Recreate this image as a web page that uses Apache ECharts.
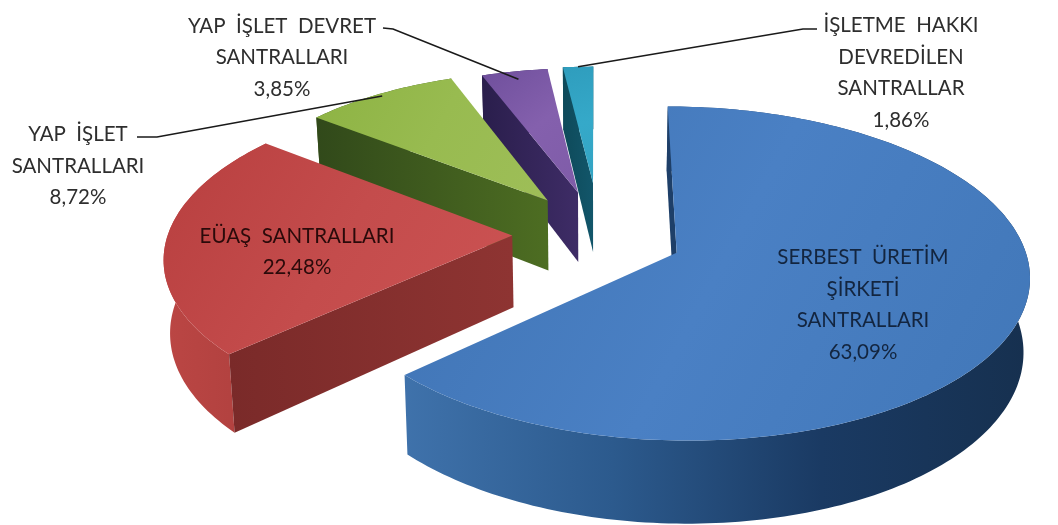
<!DOCTYPE html>
<html><head><meta charset="utf-8">
<style>html,body{margin:0;padding:0;background:#fff}#c{width:1058px;height:525px}</style>
<script src="https://cdn.jsdelivr.net/npm/echarts@6/dist/echarts.min.js"></script>
</head><body><div id="c"></div>
<script>
// ---- data
const categories = ["SERBEST  ÜRETİM\nŞİRKETİ\nSANTRALLARI","EÜAŞ  SANTRALLARI","YAP  İŞLET\nSANTRALLARI","YAP  İŞLET  DEVRET\nSANTRALLARI","İŞLETME  HAKKI\nDEVREDİLEN\nSANTRALLAR"];
const values = [63.09,22.48,8.72,3.85,1.86];

// ---- layout of the exploded perspective pie (disc units, radius 1)
const explodeU = [0.231,-0.243,-0.144,-0.054,-0.009];
const explodeV = [0.117,0.010,-0.213,-0.266,-0.330];
const radius   = [1,1,0.95,0.92,0.87];
const OX=596, VANISH_Y=-1070, INV_C=0.000767, Q=0.000094, XS=0.264, DEPTH=0.055, BOTTOM_X=0.985;
const labelPos = [[863,305],[297,252],[78,166],[282,57.5],[901,73]];
const leaderFrom = [null,null,[[137,137],[157,137]],[[383,28],[393,29]],[[817,29],[803,29]]];
const leaderAt = [0,0,0.98,0.93,1];
const LINE_H=31.5;

const topFill = [
 ['#3f73b3','#4a80c4','#4177b8'],['#b83f3f','#c44c4c','#cc5353'],['#8db343','#98bb50','#9ebe58'],['#6f4f9c','#8460ad','#7f5ca8'],['#2f9dbd','#35a9c9','#33a3c2']];
const wallFill = [
 ['#3f72ab','#2c5a8d','#1a3a63','#16304f'],['#bb4644','#ad3f3d','#9c3836','#8a3230'],['#3d5a1c','#3d5a1c','#46661f','#4c6c24'],['#2b1f4d','#33265a','#3c2b63','#33265a'],['#0f4f60','#125567','#145a6d','#145a6d']];
const sideFill = [['#1e3f68','#1e3f68'],['#7a2a29','#8e3432'],['#31491a','#4d6d22'],['#2a1e4c','#3e2c66'],['#0e4a5a','#12566a']];
const textFill = ['#13253f','#2a0a0a','#2e2e2e','#2e2e2e','#2e2e2e'];

const total = values.reduce((a,b)=>a+b,0);
const starts=[]; let acc=0; values.forEach(v=>{starts.push(acc);acc+=v/total*Math.PI*2;});

function proj(U,V,bottom){
  const D=1/(INV_C-Q*V);
  let x=OX+XS*D*U, y=VANISH_Y+D;
  if(bottom){x=OX+(x-OX)*BOTTOM_X; y+=DEPTH*D;}
  return [x,y];
}
function pt(i,th,rr,bottom){
  return proj(explodeU[i]+rr*radius[i]*Math.sin(th),explodeV[i]-rr*radius[i]*Math.cos(th),bottom);
}
function arc(i,a,b,bottom){const n=Math.max(4,Math.ceil((b-a)/0.02)),o=[];for(let k=0;k<=n;k++)o.push(pt(i,a+(b-a)*k/n,1,bottom));return o;}
function lin(x,y,x2,y2,cols){return {type:'linear',x:x,y:y,x2:x2,y2:y2,global:true,colorStops:cols.map((c,k)=>({offset:k/(cols.length-1),color:c}))};}
function poly(points,fill,z){return {type:'polygon',silent:true,z2:z,shape:{points:points},style:{fill:fill,stroke:null}};}

function renderItem(params,api){
  const i=api.value(0), a=starts[i], b=a+api.value(1)/total*Math.PI*2;
  const apexT=pt(i,0,0,false), apexB=pt(i,0,0,true);
  const topArc=arc(i,a,b,false), botArc=arc(i,a,b,true);
  const xs=topArc.map(p=>p[0]).concat(apexT[0]), ys=topArc.map(p=>p[1]).concat(apexT[1]);
  const x0=Math.min(...xs),x1=Math.max(...xs),y0=Math.min(...ys),y1=Math.max(...ys);
  const base=(10-2*i)*10;
  const ch=[];
  ch.push(poly(topArc.concat(botArc.slice().reverse()),lin(x0,0,x1,0,wallFill[i]),base+1));
  ch.push(poly([apexT,topArc[0],botArc[0],apexB],lin(Math.min(topArc[0][0],apexT[0]),0,Math.max(topArc[0][0],apexT[0])+0.01,0,sideFill[i]),base+2));
  ch.push(poly(topArc.concat([apexT]),lin(x0,y0,x1,y1,topFill[i]),base+3));
  const pct=api.value(1).toFixed(2).replace('.',',')+'%';
  ch.push({type:'text',silent:true,z2:500,style:{text:categories[i]+'\n'+pct,x:labelPos[i][0],y:labelPos[i][1],align:'center',verticalAlign:'middle',
    fill:textFill[i],font:'20.5px Lato, "Open Sans", sans-serif',lineHeight:LINE_H}});
  if(leaderFrom[i]){
    const mid=pt(i,(a+b)/2,leaderAt[i],false);
    ch.push({type:'polyline',silent:true,z2:400,shape:{points:leaderFrom[i].concat([mid])},style:{stroke:'#1a1a1a',lineWidth:1.6,fill:null}});
  }
  return {type:'group',children:ch};
}

const chart=echarts.init(document.getElementById('c'),null,{renderer:'canvas'});
chart.setOption({animation:false,backgroundColor:'#ffffff',
  series:[{type:'custom',coordinateSystem:'none',renderItem:renderItem,silent:true,
    data:values.map((v,i)=>[i,v])}]});
</script></body></html>
